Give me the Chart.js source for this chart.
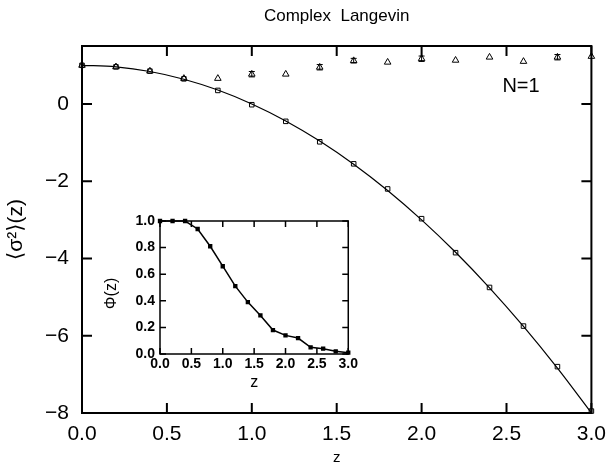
<!DOCTYPE html>
<html>
<head>
<meta charset="utf-8">
<script src="https://cdn.jsdelivr.net/npm/chart.js@4.4.0/dist/chart.umd.min.js"></script>
<style>
  html, body { margin: 0; padding: 0; background: #fff; }
  #wrap { position: relative; width: 615px; height: 468px; }
  #inset { position: absolute; left: 95px; top: 205px; width: 265px; height: 190px; }
</style>
</head>
<body>
<div id="wrap">
  <canvas id="main" width="615" height="468"></canvas>
  <div id="inset"><canvas id="insetChart" width="265" height="190"></canvas></div>
</div>
<script>
// z values shared by all series
const zs = [0.0, 0.2, 0.4, 0.6, 0.8, 1.0, 1.2, 1.4, 1.6, 1.8, 2.0, 2.2, 2.4, 2.6, 2.8, 3.0];

// main panel
const curveVals  = [1.0, 0.96, 0.84, 0.64, 0.36, 0.0, -0.44, -0.96, -1.56, -2.24, -3.0, -3.84, -4.76, -5.76, -6.84, -8.0];
const squareVals = [1.0, 0.96, 0.85, 0.65, 0.35, -0.02, -0.45, -0.98, -1.55, -2.2, -2.97, -3.85, -4.75, -5.75, -6.8, -7.95];
const triVals    = [1.0, 0.96, 0.85, 0.66, 0.66, 0.77, 0.77, 0.95, 1.12, 1.08, 1.17, 1.13, 1.21, 1.10, 1.21, 1.23];
const triErr     = [0, 0, 0, 0, 0, 0.07, 0, 0.07, 0.06, 0, 0.07, 0, 0, 0, 0.07, 0];
const xTicks = [0.0, 0.5, 1.0, 1.5, 2.0, 2.5, 3.0];
const yTicks = [-8, -6, -4, -2, 0];

// inset panel
const phiVals = [1.0, 1.0, 1.0, 0.94, 0.81, 0.66, 0.51, 0.39, 0.29, 0.18, 0.14, 0.12, 0.05, 0.04, 0.02, 0.01];
const insetYTicks = [0.0, 0.2, 0.4, 0.6, 0.8, 1.0];

const FONT = "'Liberation Sans', 'DejaVu Sans', sans-serif";

const pts = vals => zs.map((z, i) => ({ x: z, y: vals[i] }));
const fmtMinus = v => (v < 0 ? '\u2212' + Math.abs(v) : String(v));

// frame + inward ticks on all four sides
function framePlugin(tickLen, lw, xT, yT) {
  return {
    id: 'frame',
    afterDraw(chart) {
      const { ctx, chartArea: a, scales } = chart;
      ctx.save();
      ctx.strokeStyle = '#000';
      ctx.lineWidth = lw;
      ctx.strokeRect(a.left, a.top, a.right - a.left, a.bottom - a.top);
      ctx.beginPath();
      xT.forEach(v => {
        const px = scales.x.getPixelForValue(v);
        ctx.moveTo(px, a.bottom); ctx.lineTo(px, a.bottom - tickLen);
        ctx.moveTo(px, a.top); ctx.lineTo(px, a.top + tickLen);
      });
      yT.forEach(v => {
        const py = scales.y.getPixelForValue(v);
        ctx.moveTo(a.left, py); ctx.lineTo(a.left + tickLen, py);
        ctx.moveTo(a.right, py); ctx.lineTo(a.right - tickLen, py);
      });
      ctx.stroke();
      ctx.restore();
    }
  };
}

const mainText = {
  id: 'mainText',
  afterDraw(chart) {
    const { ctx, chartArea: a } = chart;
    ctx.save();
    ctx.fillStyle = '#000';
    ctx.textAlign = 'center';
    ctx.textBaseline = 'middle';
    ctx.font = '17px ' + FONT;
    ctx.fillText('Complex  Langevin', (a.left + a.right) / 2, 16);
    ctx.font = '20px ' + FONT;
    ctx.fillText('N=1', 521, 86);
    ctx.font = '15px ' + FONT;
    ctx.fillText('z', (a.left + a.right) / 2, 458);
    ctx.translate(16, (a.top + a.bottom) / 2);
    ctx.rotate(-Math.PI / 2);
    ctx.font = '21px ' + FONT;
    ctx.fillText('\u27E8\u03C3\u00B2\u27E9(z)', 0, 0);
    ctx.restore();
  }
};

const errorBars = {
  id: 'errorBars',
  afterDatasetsDraw(chart) {
    const { ctx, scales } = chart;
    ctx.save();
    ctx.strokeStyle = '#000';
    ctx.lineWidth = 1;
    ctx.beginPath();
    zs.forEach((z, i) => {
      if (!triErr[i]) return;
      const px = scales.x.getPixelForValue(z);
      const y1 = scales.y.getPixelForValue(triVals[i] + triErr[i]);
      const y2 = scales.y.getPixelForValue(triVals[i] - triErr[i]);
      ctx.moveTo(px, y1); ctx.lineTo(px, y2);
      ctx.moveTo(px - 3, y1); ctx.lineTo(px + 3, y1);
      ctx.moveTo(px - 3, y2); ctx.lineTo(px + 3, y2);
    });
    ctx.stroke();
    ctx.restore();
  }
};

new Chart(document.getElementById('main'), {
  type: 'scatter',
  data: {
    datasets: [
      {
        data: pts(curveVals), showLine: true, pointRadius: 0,
        borderColor: '#000', borderWidth: 1.2, cubicInterpolationMode: 'monotone', clip: false
      },
      {
        data: pts(squareVals), pointStyle: 'rect', pointRadius: 3.2,
        borderColor: '#000', backgroundColor: 'rgba(0,0,0,0)', borderWidth: 1, clip: false
      },
      {
        data: pts(triVals), pointStyle: 'triangle', pointRadius: 3.8,
        borderColor: '#000', backgroundColor: 'rgba(0,0,0,0)', borderWidth: 1, clip: false
      }
    ]
  },
  options: {
    responsive: false,
    animation: false,
    events: [],
    layout: { padding: { top: 46, right: 16, left: 0, bottom: 0 } },
    plugins: { legend: { display: false }, title: { display: false }, tooltip: { enabled: false } },
    scales: {
      x: {
        type: 'linear', min: 0, max: 3,
        grid: { display: false, drawTicks: false, tickLength: 0 }, border: { display: false },
        afterBuildTicks: s => { s.ticks = xTicks.map(v => ({ value: v })); },
        afterFit: s => { s.height = 55; },
        ticks: { color: '#000', padding: 9, font: { family: FONT, size: 21 }, callback: v => v.toFixed(1), maxRotation: 0 }
      },
      y: {
        type: 'linear', min: -8, max: 1.5,
        grid: { display: false, drawTicks: false, tickLength: 0 }, border: { display: false },
        afterBuildTicks: s => { s.ticks = yTicks.map(v => ({ value: v })); },
        afterFit: s => { s.width = 82; },
        ticks: { color: '#000', padding: 13, font: { family: FONT, size: 21 }, callback: v => fmtMinus(v) }
      }
    }
  },
  plugins: [framePlugin(10, 2, xTicks, yTicks), errorBars, mainText]
});

const insetText = {
  id: 'insetText',
  afterDraw(chart) {
    const { ctx, chartArea: a } = chart;
    ctx.save();
    ctx.fillStyle = '#000';
    ctx.textAlign = 'center';
    ctx.textBaseline = 'middle';
    ctx.font = '16px ' + FONT;
    ctx.fillText('z', (a.left + a.right) / 2, 178);
    ctx.translate(17, (a.top + a.bottom) / 2 + 6);
    ctx.rotate(-Math.PI / 2);
    ctx.font = '16px ' + FONT;
    ctx.fillText('\u03A6(z)', 0, 0);
    ctx.restore();
  }
};

new Chart(document.getElementById('insetChart'), {
  type: 'scatter',
  data: {
    datasets: [{
      data: pts(phiVals), showLine: true, pointStyle: 'rect', pointRadius: 2,
      borderColor: '#000', backgroundColor: '#000', borderWidth: 1.5, clip: false
    }]
  },
  options: {
    responsive: false,
    animation: false,
    events: [],
    layout: { padding: { top: 16, right: 9, left: 0, bottom: 0 } },
    plugins: { legend: { display: false }, title: { display: false }, tooltip: { enabled: false } },
    scales: {
      x: {
        type: 'linear', min: 0, max: 3,
        grid: { display: false, drawTicks: false, tickLength: 0 }, border: { display: false },
        afterBuildTicks: s => { s.ticks = xTicks.map(v => ({ value: v })); },
        afterFit: s => { s.height = 41; },
        ticks: { color: '#000', padding: 2, font: { family: FONT, size: 14, weight: 'bold' }, callback: v => v.toFixed(1), maxRotation: 0, autoSkip: false }
      },
      y: {
        type: 'linear', min: 0, max: 1,
        grid: { display: false, drawTicks: false, tickLength: 0 }, border: { display: false },
        afterBuildTicks: s => { s.ticks = insetYTicks.map(v => ({ value: v })); },
        afterFit: s => { s.width = 65; },
        ticks: { color: '#000', padding: 5, font: { family: FONT, size: 14, weight: 'bold' }, callback: v => v.toFixed(1) }
      }
    }
  },
  plugins: [framePlugin(6, 1.5, xTicks, insetYTicks), insetText]
});
</script>
</body>
</html>
